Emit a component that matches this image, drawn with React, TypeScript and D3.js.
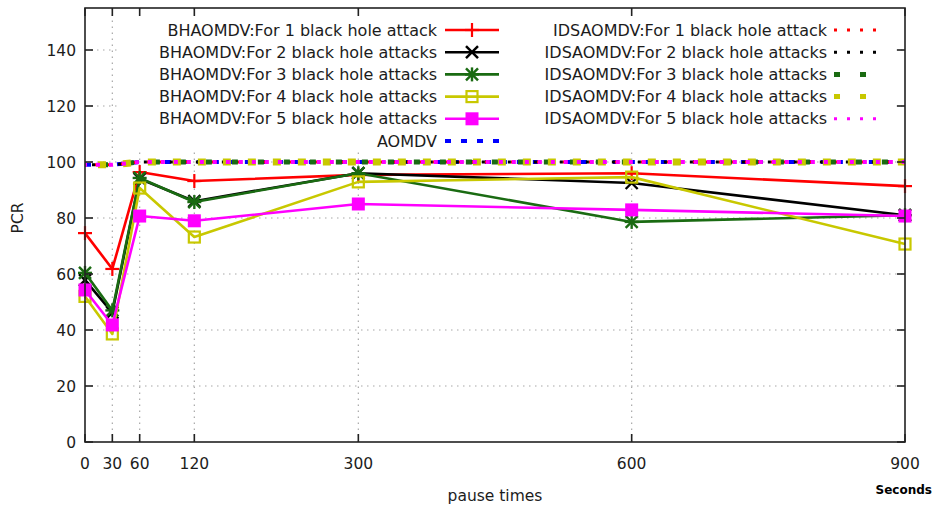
import React from "react";
import * as d3 from "d3";

// Pause times (seconds) on the x axis
const pauseTimes = [0, 30, 60, 120, 300, 600, 900];
const xTicks = [0, 30, 60, 120, 300, 600, 900];
const yTicks = [0, 20, 40, 60, 80, 100, 120, 140];

// PCR values per series
const bh1 = [74.6, 61.8, 96.4, 93.2, 95.4, 96.0, 91.4];
const bh2 = [57.8, 46.2, 94.0, 86.0, 96.0, 92.5, 81.0];
const bh3 = [60.4, 47.0, 94.3, 85.7, 96.0, 78.6, 81.0];
const bh4 = [52.0, 38.6, 90.7, 73.2, 92.9, 94.6, 70.7];
const bh5 = [54.3, 41.8, 80.7, 79.0, 85.0, 82.9, 80.7];
const aomdv = [99, 99, 100, 100, 100, 100, 100];
const ids1 = [99, 99, 100, 100, 100, 100, 100];
const ids2 = [99, 99, 100, 100, 100, 100, 100];
const ids3 = [99, 99, 100, 100, 100, 100, 100];
const ids4 = [99, 99, 100, 100, 100, 100, 100];
const ids5 = [99, 99, 100, 100, 100, 100, 100];

const bhLabels = [
  "BHAOMDV:For 1 black hole attack",
  "BHAOMDV:For 2 black hole attacks",
  "BHAOMDV:For 3 black hole attacks",
  "BHAOMDV:For 4 black hole attacks",
  "BHAOMDV:For 5 black hole attacks",
];
const idsLabels = [
  "IDSAOMDV:For 1 black hole attack",
  "IDSAOMDV:For 2 black hole attacks",
  "IDSAOMDV:For 3 black hole attacks",
  "IDSAOMDV:For 4 black hole attacks",
  "IDSAOMDV:For 5 black hole attacks",
];
const aomdvLabel = "AOMDV";

const W = 935;
const H = 508;
const left = 85;
const right = 905;
const top = 8;
const bottom = 442;

const FONT = "'DejaVu Sans', Verdana, sans-serif";
const TEXT = "#1c1c1c";

type Marker = "plus" | "cross" | "star" | "openSquare" | "square";

const bhSeries: { values: number[]; color: string; marker: Marker }[] = [
  { values: bh1, color: "#ff0000", marker: "plus" },
  { values: bh2, color: "#000000", marker: "cross" },
  { values: bh3, color: "#1a6b12", marker: "star" },
  { values: bh4, color: "#c8c800", marker: "openSquare" },
  { values: bh5, color: "#ff00ff", marker: "square" },
];

const dashedSeries: { values: number[]; color: string; dash: string; width: number }[] = [
  { values: aomdv, color: "#0000ff", dash: "6,10", width: 4 },
  { values: ids1, color: "#ff0000", dash: "3,10", width: 3 },
  { values: ids2, color: "#000000", dash: "3,10", width: 3 },
  { values: ids3, color: "#1a6b12", dash: "6,20", width: 5 },
  { values: ids4, color: "#c8c800", dash: "8,17", width: 7 },
  { values: ids5, color: "#ff00ff", dash: "4,9", width: 4 },
];

function MarkerShape({ kind, x, y, color }: { kind: Marker; x: number; y: number; color: string }) {
  const s = 6;
  if (kind === "plus") {
    return (
      <g stroke={color} strokeWidth={2.2}>
        <line x1={x - s - 1} y1={y} x2={x + s + 1} y2={y} />
        <line x1={x} y1={y - s - 1} x2={x} y2={y + s + 1} />
      </g>
    );
  }
  if (kind === "cross") {
    return (
      <g stroke={color} strokeWidth={2.4}>
        <line x1={x - s} y1={y - s} x2={x + s} y2={y + s} />
        <line x1={x - s} y1={y + s} x2={x + s} y2={y - s} />
      </g>
    );
  }
  if (kind === "star") {
    return (
      <g stroke={color} strokeWidth={2.4}>
        <line x1={x - s} y1={y - s} x2={x + s} y2={y + s} />
        <line x1={x - s} y1={y + s} x2={x + s} y2={y - s} />
        <line x1={x - s - 1} y1={y} x2={x + s + 1} y2={y} />
        <line x1={x} y1={y - s - 1} x2={x} y2={y + s + 1} />
      </g>
    );
  }
  if (kind === "openSquare") {
    return <rect x={x - 5.5} y={y - 5.5} width={11} height={11} fill="none" stroke={color} strokeWidth={2.2} />;
  }
  return <rect x={x - 6.5} y={y - 6.5} width={13} height={13} fill={color} />;
}

export default function App() {
  const x = d3.scaleLinear().domain([0, 900]).range([left, right]);
  const y = d3.scaleLinear().domain([0, 155]).range([bottom, top]);
  const line = d3
    .line<number>()
    .x((_, i) => x(pauseTimes[i]))
    .y((d) => y(d));

  const gridX = xTicks.filter((t) => t !== 0 && t !== 900);
  const gridY = yTicks.filter((t) => t !== 0);

  // Key layout
  const rowY = (i: number) => 30 + i * 22.2;
  const leftTextEnd = 437;
  const leftSample = [445, 499];
  const rightTextEnd = 827;
  const rightSample = [834, 880];

  return (
    <svg width={W} height={H} style={{ position: "absolute", left: 0, top: 0, background: "#fff" }}>
      <rect x={0} y={0} width={W} height={H} fill="#fff" />
      {/* grid */}
      <g stroke="#a8a8a8" strokeWidth={1.2} strokeDasharray="1.5,4.5">
        {gridX.map((t) => (
          <line key={"gx" + t} x1={x(t)} x2={x(t)} y1={bottom} y2={top} />
        ))}
        {gridY.map((t) => (
          <line key={"gy" + t} x1={left} x2={right} y1={y(t)} y2={y(t)} />
        ))}
      </g>

      {/* key background */}
      <rect x={118} y={11} width={778} height={140} fill="#fff" />

      {/* series near 100 */}
      {dashedSeries.map((s, i) => (
        <path
          key={"ds" + i}
          d={line(s.values) || ""}
          fill="none"
          stroke={s.color}
          strokeWidth={s.width}
          strokeDasharray={s.dash}
          strokeDashoffset={i * 3}
        />
      ))}

      {/* BHAOMDV series */}
      {bhSeries.map((s, i) => (
        <g key={"bh" + i}>
          <path d={line(s.values) || ""} fill="none" stroke={s.color} strokeWidth={2.6} strokeLinejoin="round" />
          {s.values.map((v, j) => (
            <MarkerShape key={j} kind={s.marker} x={x(pauseTimes[j])} y={y(v)} color={s.color} />
          ))}
        </g>
      ))}

      {/* frame */}
      <rect x={left} y={top} width={right - left} height={bottom - top} fill="none" stroke="#222" strokeWidth={1.6} />
      {/* ticks */}
      <g stroke="#222" strokeWidth={1.6}>
        {xTicks.map((t) => (
          <g key={"xt" + t}>
            <line x1={x(t)} x2={x(t)} y1={bottom} y2={bottom - 8} />
            <line x1={x(t)} x2={x(t)} y1={top} y2={top + 8} />
          </g>
        ))}
        {yTicks.map((t) => (
          <g key={"yt" + t}>
            <line x1={left} x2={left + 8} y1={y(t)} y2={y(t)} />
            <line x1={right} x2={right - 8} y1={y(t)} y2={y(t)} />
          </g>
        ))}
      </g>

      {/* tick labels */}
      <g fontFamily={FONT} fontSize={15.5} fill={TEXT}>
        {yTicks.map((t) => (
          <text key={"yl" + t} x={76} y={y(t)} dy="0.36em" textAnchor="end">
            {t}
          </text>
        ))}
        {xTicks.map((t) => (
          <text key={"xl" + t} x={x(t)} y={469} textAnchor="middle">
            {t}
          </text>
        ))}
      </g>

      {/* axis titles */}
      <text x={495} y={501} textAnchor="middle" fontFamily={FONT} fontSize={15.5} fill={TEXT}>
        pause times
      </text>
      <text
        transform={`translate(23,218) rotate(-90)`}
        textAnchor="middle"
        fontFamily={FONT}
        fontSize={15.5}
        fill={TEXT}
      >
        PCR
      </text>
      <text x={932} y={494} textAnchor="end" fontFamily={FONT} fontSize={12} fontWeight="bold" fill="#000">
        Seconds
      </text>

      {/* key */}
      <g fontFamily={FONT} fontSize={16} fill={TEXT}>
        {bhLabels.map((lab, i) => (
          <g key={"kl" + i}>
            <text x={leftTextEnd} y={rowY(i)} dy="0.35em" textAnchor="end">
              {lab}
            </text>
            <line
              x1={leftSample[0]}
              x2={leftSample[1]}
              y1={rowY(i)}
              y2={rowY(i)}
              stroke={bhSeries[i].color}
              strokeWidth={2.6}
            />
            <MarkerShape
              kind={bhSeries[i].marker}
              x={(leftSample[0] + leftSample[1]) / 2}
              y={rowY(i)}
              color={bhSeries[i].color}
            />
          </g>
        ))}
        <text x={leftTextEnd} y={rowY(5)} dy="0.35em" textAnchor="end">
          {aomdvLabel}
        </text>
        <line
          x1={leftSample[0]}
          x2={leftSample[1]}
          y1={rowY(5)}
          y2={rowY(5)}
          stroke={dashedSeries[0].color}
          strokeWidth={4}
          strokeDasharray="6,10"
        />
        {idsLabels.map((lab, i) => {
          const s = dashedSeries[i + 1];
          return (
            <g key={"kr" + i}>
              <text x={rightTextEnd} y={rowY(i)} dy="0.35em" textAnchor="end">
                {lab}
              </text>
              <line
                x1={rightSample[0]}
                x2={rightSample[1]}
                y1={rowY(i)}
                y2={rowY(i)}
                stroke={s.color}
                strokeWidth={i === 2 || i === 3 ? 5 : 3}
                strokeDasharray={i === 2 || i === 3 ? "6,20" : "3,10"}
              />
            </g>
          );
        })}
      </g>
    </svg>
  );
}
